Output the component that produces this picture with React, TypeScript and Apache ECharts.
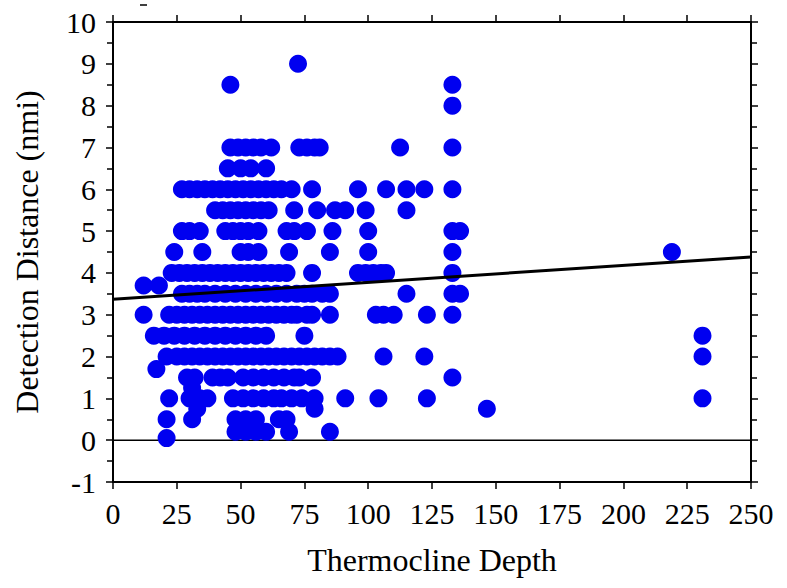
import React, { useEffect, useRef } from "react";
import * as echarts from "echarts";

// Detection distance (nmi) levels and thermocline depths observed at each level
const distanceLevels = [9, 8.5, 8, 7, 6.5, 6, 5.5, 5, 4.5, 4, 3.7, 3.5, 3, 2.5, 2, 1.7, 1.5, 1.25, 1, 0.75, 0.5, 0.2, 0.05];

const depthsAt9 = [72.5];
const depthsAt8_5 = [46, 133];
const depthsAt8 = [133];
const depthsAt7 = [46, 49, 52, 55, 58, 62, 73, 76, 79, 81, 112.5, 133];
const depthsAt6_5 = [45, 50, 54, 60];
const depthsAt6 = [27, 30, 33, 36, 39, 42, 45, 48, 51, 54, 57, 60, 63, 66, 70, 78, 96, 107, 115, 122, 133];
const depthsAt5_5 = [40, 43, 46, 49, 52, 55, 58, 61, 71, 80, 87, 91, 99, 115];
const depthsAt5 = [27, 30, 34, 44, 47, 50, 53, 57, 68, 71, 76, 86, 100, 133, 136];
const depthsAt4_5 = [24, 35, 50, 53, 57, 69, 85, 100, 133, 219];
const depthsAt4 = [23, 26, 29, 32, 35, 38, 41, 44, 47, 50, 53, 56, 59, 62, 65, 68, 78, 96, 99, 102, 105, 107, 133];
const depthsAt3_7 = [12, 18];
const depthsAt3_5 = [27, 30, 33, 36, 40, 44, 48, 52, 56, 60, 64, 68, 72, 75, 78, 82, 85, 115, 133, 136];
const depthsAt3 = [12, 22, 25, 28, 31, 34, 37, 40, 43, 46, 49, 52, 55, 58, 61, 64, 67, 70, 72, 76, 78, 85, 103, 106, 110, 123, 133];
const depthsAt2_5 = [16, 20, 24, 28, 32, 36, 40, 44, 48, 52, 56, 60, 75, 231];
const depthsAt2 = [21, 25, 28, 31, 34, 37, 40, 43, 46, 49, 52, 55, 58, 61, 64, 67, 70, 73, 76, 79, 82, 85, 88, 106, 122, 231];
const depthsAt1_7 = [17];
const depthsAt1_5 = [29, 32, 39, 42, 45, 51, 55, 59, 63, 67, 71, 73, 78, 133];
const depthsAt1_25 = [31];
const depthsAt1 = [22, 30, 34, 37, 47, 51, 55, 59, 63, 66, 70, 74, 79, 91, 104, 123, 231];
const depthsAt0_75 = [33, 79, 146.5];
const depthsAt0_5 = [21, 31, 48, 52, 56, 65, 68];
const depthsAt0_2 = [48, 52, 56, 60, 69, 85];
const depthsAt0_05 = [21];

const depthsByLevel = [
  depthsAt9, depthsAt8_5, depthsAt8, depthsAt7, depthsAt6_5, depthsAt6, depthsAt5_5, depthsAt5,
  depthsAt4_5, depthsAt4, depthsAt3_7, depthsAt3_5, depthsAt3, depthsAt2_5, depthsAt2, depthsAt1_7,
  depthsAt1_5, depthsAt1_25, depthsAt1, depthsAt0_75, depthsAt0_5, depthsAt0_2, depthsAt0_05,
];

// Regression line endpoints (depth, distance)
const fitDepth = [0, 250];
const fitDistance = [3.37, 4.38];

const xTicks = { min: 0, max: 250, interval: 25 };
const yTicks = { min: -1, max: 10, interval: 1 };

const FONT = "'Liberation Serif', 'Times New Roman', serif";

export default function App() {
  const ref = useRef<HTMLDivElement>(null);
  useEffect(() => {
    if (!ref.current) return;
    const chart = echarts.init(ref.current, undefined, { renderer: "svg" });
    const points: number[][] = [];
    distanceLevels.forEach((d, i) => {
      depthsByLevel[i].forEach((x) => points.push([x, d]));
    });
    const axisLine = { show: true, onZero: false, lineStyle: { color: "#000", width: 2 } };
    const tick = { show: true, inside: false, length: 7, lineStyle: { color: "#000", width: 1.5 } };
    const minorTick = { show: true, splitNumber: 2, length: 6, lineStyle: { color: "#000", width: 1.5 } };
    chart.setOption({
      animation: false,
      backgroundColor: "#fff",
      grid: { left: 113, right: 36, top: 22, bottom: 106, containLabel: false },
      xAxis: [
        {
          type: "value",
          ...xTicks,
          position: "bottom",
          axisLine,
          axisTick: tick,
          splitLine: { show: false },
          axisLabel: { color: "#000", fontFamily: FONT, fontSize: 30, margin: 16 },
          name: "Thermocline Depth",
          nameLocation: "middle",
          nameGap: 62,
          nameTextStyle: { color: "#000", fontFamily: FONT, fontSize: 32 },
        },
        {
          type: "value",
          ...xTicks,
          position: "top",
          axisLine,
          axisTick: tick,
          splitLine: { show: false },
          axisLabel: { show: false },
        },
      ],
      yAxis: [
        {
          type: "value",
          ...yTicks,
          position: "left",
          axisLine,
          axisTick: tick,
          minorTick,
          splitLine: { show: false },
          axisLabel: { color: "#000", fontFamily: FONT, fontSize: 30, margin: 17 },
          name: "Detection Distance (nmi)",
          nameLocation: "middle",
          nameGap: 70,
          nameTextStyle: { color: "#000", fontFamily: FONT, fontSize: 32 },
        },
        {
          type: "value",
          ...yTicks,
          position: "right",
          axisLine,
          axisTick: tick,
          minorTick,
          splitLine: { show: false },
          axisLabel: { show: false },
        },
      ],
      series: [
        {
          type: "scatter",
          data: points,
          symbol: "circle",
          symbolSize: 18,
          itemStyle: { color: "#0000f0", opacity: 1 },
          z: 2,
        },
        {
          type: "line",
          data: [[xTicks.min, 0], [xTicks.max, 0]],
          symbol: "none",
          lineStyle: { color: "#000", width: 1.5 },
          z: 1,
        },
        {
          type: "line",
          data: fitDepth.map((x, i) => [x, fitDistance[i]]),
          symbol: "none",
          lineStyle: { color: "#000", width: 3 },
          z: 3,
        },
      ],
      graphic: [
        { type: "line", shape: { x1: 140, y1: 5, x2: 147, y2: 5 }, style: { stroke: "#000", lineWidth: 1.5 } },
      ],
    });
    return () => chart.dispose();
  }, []);
  return <div ref={ref} style={{ position: "fixed", left: 0, top: 0, width: 787, height: 588 }} />;
}
